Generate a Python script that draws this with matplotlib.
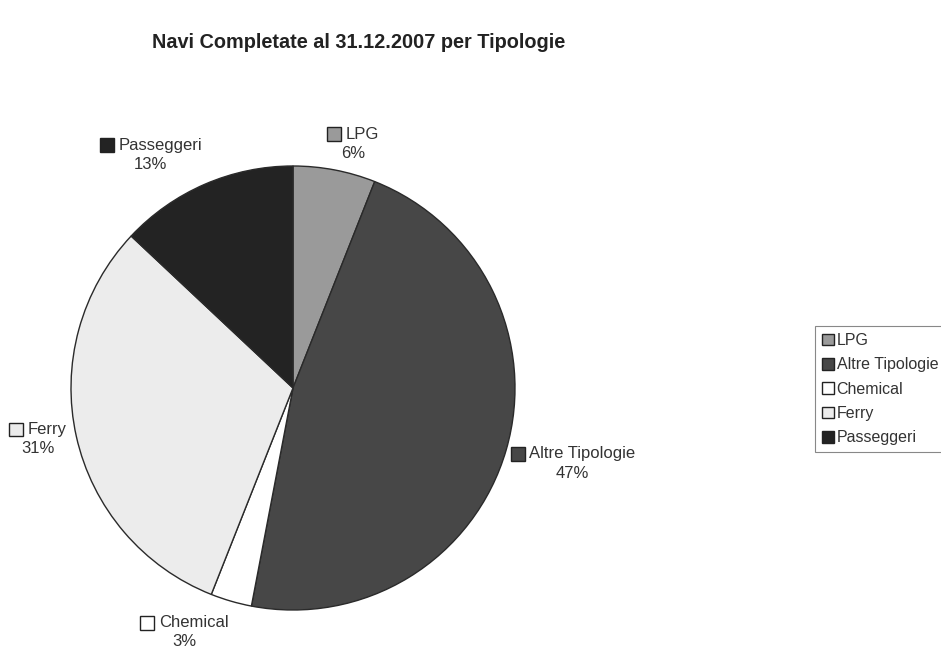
import matplotlib
matplotlib.use("Agg")
import matplotlib.pyplot as plt
from matplotlib.patches import Rectangle, Patch
from matplotlib.offsetbox import (AnnotationBbox, DrawingArea, TextArea,
                                  HPacker, VPacker)

plt.rcParams['font.family'] = ['Liberation Sans', 'DejaVu Sans']

categories = ["LPG", "Altre Tipologie", "Chemical", "Ferry", "Passeggeri"]
shares = [6, 47, 3, 31, 13]
colors = ["#9a9a9a", "#474747", "#ffffff", "#ececec", "#232323"]
# label centres, in units of the pie radius
label_pos = [(0.27, 1.10), (1.26, -0.34), (-0.49, -1.10), (-1.15, -0.23), (-0.64, 1.05)]

W, H = 941, 652
fig = plt.figure(figsize=(W / 100, H / 100), dpi=100)
fig.patch.set_facecolor("white")

cx, cy, r = 293, 388, 222
ax = fig.add_axes([(cx - r) / W, (H - cy - r) / H, 2 * r / W, 2 * r / H])
ax.axis("off")

wedges, _ = ax.pie(shares, colors=colors, startangle=90, counterclock=False,
                   radius=1.0, wedgeprops=dict(edgecolor="#2a2a2a", linewidth=1.0))
ax.set_xlim(-1, 1)
ax.set_ylim(-1, 1)
ax.set_aspect("equal")

# outside labels: coloured square + name, percentage underneath
for name, val, col, (x, y) in zip(categories, shares, colors, label_pos):
    da = DrawingArea(11, 11, 0, 0)
    da.add_artist(Rectangle((0.5, 0.5), 10, 10, facecolor=col,
                            edgecolor="#222222", linewidth=1.0))
    name_box = TextArea(name, textprops=dict(fontsize=12, color="#333333"))
    top = HPacker(children=[da, name_box], align="center", pad=0, sep=3)
    pct = TextArea(f"{val}%", textprops=dict(fontsize=12, color="#333333"))
    box = VPacker(children=[top, pct], align="center", pad=0, sep=3)
    ab = AnnotationBbox(box, (x, y), frameon=False, box_alignment=(0.5, 0.5),
                        annotation_clip=False)
    ax.add_artist(ab)

fig.text(359 / W, 1 - 42 / H, "Navi Completate al 31.12.2007 per Tipologie",
         ha="center", va="center", fontsize=14.3, fontweight="bold", color="#222222")

handles = [Patch(facecolor=c, edgecolor="#222222", linewidth=1.0) for c in colors]
leg = fig.legend(handles, categories, loc="upper left",
                 bbox_to_anchor=(815 / W, 1 - 326 / H), fontsize=11.5,
                 handlelength=0.75, handleheight=0.75, handletextpad=0.15,
                 labelspacing=0.58, borderpad=0.45, borderaxespad=0, fancybox=False,
                 framealpha=1, edgecolor="#888888", labelcolor="#333333")
leg.get_frame().set_linewidth(0.8)

fig.savefig("out.png", dpi=100, facecolor="white")
